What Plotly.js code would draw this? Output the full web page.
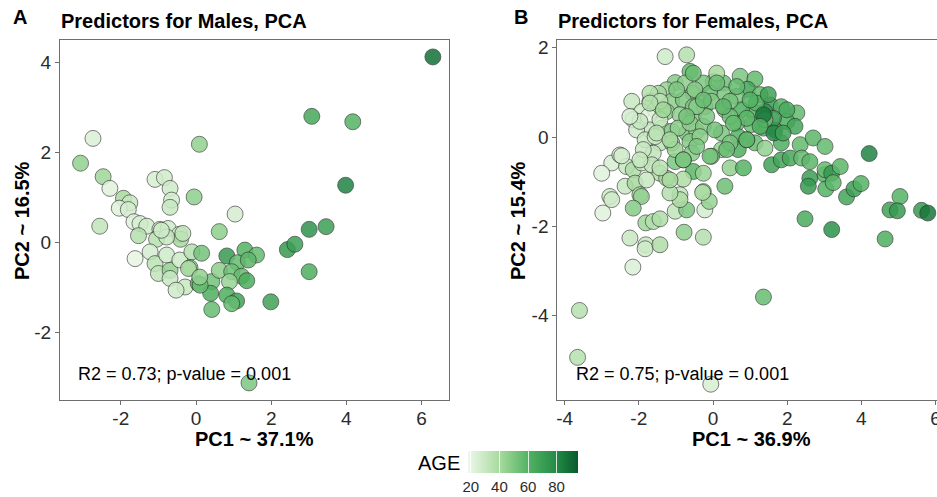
<!DOCTYPE html>
<html>
<head>
<meta charset="utf-8">
<script src="https://cdn.plot.ly/plotly-3.0.1.min.js"></script>
<style>
html,body{margin:0;padding:0;overflow:hidden;background:#fff;width:937px;height:497px;}
#chart{width:945px;height:497px;}
</style>
</head>
<body>
<div id="chart"></div>
<script>
// ---- Males ----
const maleX = [-2.74,-3.07,0.09,-2.47,-2.29,-1.09,-0.84,-0.69,-0.05,-0.65,-0.69,-1.93,-1.76,-2.04,-1.80,-2.56,-1.65,-1.49,-1.31,-1.53,-0.96,-0.74,-0.44,-0.41,-1.05,-0.78,-1.62,-1.22,-1.09,-0.78,-1.00,-0.69,-0.69,-0.43,-0.11,0.15,-0.16,-0.29,-0.53,0.06,0.42,0.39,0.42,0.62,1.04,3.01,3.46,2.43,2.63,3.01,0.82,1.30,1.61,1.10,1.39,0.62,0.95,1.21,1.35,0.89,0.11,0.82,1.08,0.95,1.99,1.41,3.98,3.08,4.17,6.30,-0.35,-0.92,-0.20,0.10];
const maleY = [2.31,1.76,2.18,1.46,1.20,1.40,1.44,1.20,1.01,0.94,0.78,0.98,0.88,0.76,0.73,0.36,0.46,0.42,0.36,0.15,0.29,0.31,0.18,0.07,0.07,0.12,-0.36,-0.21,-0.47,-0.28,-0.69,-0.62,-0.80,-0.39,-0.21,-0.24,-0.56,-0.99,-1.06,-0.91,-0.87,-1.13,-1.49,0.24,0.63,0.29,0.35,-0.16,-0.04,-0.65,-0.30,-0.17,-0.28,-0.45,-0.39,-0.62,-0.65,-0.75,-0.85,-0.87,-0.95,-1.17,-1.30,-1.36,-1.32,-3.12,1.27,2.80,2.68,4.12,0.20,0.27,-0.58,-0.77];
const maleAge = [24,45,45,42,22,25,27,28,46,26,30,40,30,22,26,32,22,25,28,36,30,28,27,40,35,30,20,26,34,28,32,45,30,28,36,52,48,30,28,58,52,62,55,46,26,75,70,72,70,62,72,60,56,55,58,46,54,56,63,44,55,62,68,56,68,50,82,65,60,88,32,28,38,45];

// ---- Females ----
const femaleX = [-1.29,-0.71,-0.62,-1.02,-0.75,-1.25,-1.47,-0.53,-1.11,-0.80,-2.19,-1.70,-1.92,-1.56,-1.25,-0.89,-0.53,-2.15,-1.74,-1.70,-2.06,-1.38,-1.11,-0.71,-0.44,-1.83,-1.43,-1.11,-0.62,-1.61,-1.02,-0.53,-2.73,-2.51,-3.00,-2.33,-2.15,-1.92,-1.65,-1.43,-1.25,-2.37,-2.10,-1.79,-2.78,-1.97,-0.89,
-1.97,-2.24,-1.43,-1.56,-1.88,-0.94,-1.02,-0.57,-0.80,-1.70,-1.43,-0.53,-0.62,
0.73,1.13,0.93,0.28,0.01,0.10,-0.26,-0.53,-0.49,-0.08,0.32,0.64,1.27,1.54,1.84,1.40,1.09,0.77,0.32,-0.22,2.26,1.99,2.21,1.67,1.36,1.04,0.64,0.23,-0.26,0.68,1.13,1.40,1.84,2.35,2.70,3.02,0.23,0.68,-0.04,0.46,0.82,1.58,1.84,2.08,2.39,0.32,-0.26,2.61,2.57,3.02,1.63,0.46,-0.17,
-0.44,-0.35,0.05,0.46,0.91,-0.04,1.17,1.49,0.64,1.40,0.91,0.46,1.36,1.64,
4.21,2.61,3.02,3.20,3.43,3.04,3.24,3.60,3.80,3.99,2.48,3.20,4.64,5.04,4.77,4.97,5.62,5.79,
-1.97,-1.93,-2.15,-2.73,-2.97,-1.81,-1.61,-1.43,-2.24,-1.81,-1.83,-1.43,-2.16,-0.78,-0.26,-1.02,-0.71,-0.22,-0.10,-0.28,-0.89,-1.16,-0.80,-1.43,-2.46,
-3.60,-3.65,-0.06,1.36,
-1.70,-1.34,-0.98,-1.52,-1.16,-0.71,-0.26,0.10,0.28,0.55,1.00,1.27,1.89,1.99,-0.44,-0.08,0.37,0.91,-0.80,-1.16,-0.26];
const femaleY = [1.80,1.84,1.47,1.22,1.21,1.06,0.98,0.98,0.80,0.83,0.80,0.80,0.57,0.61,0.57,0.50,0.46,0.39,0.46,0.16,0.16,0.20,0.13,0.09,0.13,-0.06,-0.13,-0.13,-0.10,-0.36,-0.55,-0.77,-0.58,-0.40,-0.81,-0.66,-0.73,-0.58,-0.62,-0.81,-0.92,-1.10,-1.03,-0.96,-1.33,-1.29,-1.29,
0.35,0.46,0.39,0.01,-0.28,0.20,-0.28,-0.36,-0.51,0.98,0.80,0.68,0.31,
1.36,1.30,1.07,1.21,1.24,1.43,1.21,1.43,1.06,0.98,0.95,0.91,0.95,0.72,0.68,0.57,0.57,0.61,0.61,0.68,0.54,0.35,0.24,0.16,0.20,0.28,0.31,0.09,0.24,0.01,-0.13,-0.25,-0.13,-0.17,-0.02,-0.21,-0.28,-0.28,-0.43,-0.69,-0.69,-0.62,-0.51,-0.47,-0.47,-1.10,-1.22,-0.92,-1.10,-0.84,0.42,0.80,0.46,
0.68,0.01,0.16,0.46,0.42,0.80,0.76,0.95,1.13,0.39,-0.06,-0.13,0.50,0.09,
-0.37,-0.55,-0.73,-0.81,-0.66,-1.16,-1.02,-1.34,-1.16,-1.04,-1.83,-2.07,-2.28,-1.33,-1.63,-1.65,-1.64,-1.70,
-0.51,-1.33,-1.59,-1.40,-1.70,-1.92,-1.89,-1.83,-2.26,-2.41,-2.50,-2.41,-2.91,-2.13,-2.24,-1.66,-1.63,-1.63,-1.44,-1.24,-1.40,-1.25,-0.94,-0.69,-0.42,
-3.88,-4.93,-5.53,-3.58,
0.76,0.61,1.06,0.09,-0.06,0.46,0.83,1.21,0.68,0.31,0.83,0.24,0.09,0.61,-0.21,-0.43,-0.28,-0.06,-0.51,-0.96,-0.81];
const femaleAge = [28,36,55,48,46,44,40,50,46,50,30,38,28,38,45,46,48,25,20,30,28,44,46,50,46,30,32,44,48,32,50,58,25,28,22,30,38,30,32,36,40,30,40,30,28,40,32,
30,26,30,28,30,46,44,48,56,36,34,50,46,
50,56,66,54,50,40,50,55,48,54,50,50,56,70,60,75,60,62,50,48,56,62,66,75,60,54,55,50,48,60,55,45,62,56,58,56,45,62,50,45,60,68,66,65,56,54,42,70,72,60,72,52,50,
48,46,52,54,58,50,60,68,56,55,56,52,85,80,
82,58,56,72,58,60,58,66,70,60,64,76,62,60,68,72,72,86,
30,45,48,28,22,42,36,38,30,30,28,38,24,46,36,32,50,26,44,38,38,36,38,34,26,
35,35,25,55,
36,42,50,34,40,52,55,54,58,56,60,62,68,64,50,52,55,58,50,40,44];

// ---- text / ticks ----
const panelLetters = ['A','B'];
const panelTitles = ['Predictors for Males, PCA','Predictors for Females, PCA'];
const xTitles = ['PC1 ~ 37.1%','PC1 ~ 36.9%'];
const yTitles = ['PC2 ~ 16.5%','PC2 ~ 15.4%'];
const statTexts = ['R2 = 0.73; p-value = 0.001','R2 = 0.75; p-value = 0.001'];
const maleXTicks = [-2,0,2,4,6];
const maleXTickText = ['-2','0','2','4','6'];
const maleYTicks = [-2,0,2,4];
const maleYTickText = ['-2','0','2','4'];
const femaleXTicks = [-4,-2,0,2,4,6];
const femaleXTickText = ['-4','-2','0','2','4','6'];
const femaleYTicks = [-4,-2,0,2];
const femaleYTickText = ['-4','-2','0','2'];
const ageTicks = [20,40,60,80];
const ageTickText = ['20','40','60','80'];

const W = 945, H = 497;
const px = v => v / W;
const py = v => (H - v) / H;
const FONT = 'Liberation Sans, Arial, Helvetica, sans-serif';

const markerBase = {
  size: 16,
  opacity: 0.85,
  coloraxis: 'coloraxis',
  line: {color: '#2a2a2a', width: 0.7}
};

const traces = [
  {type:'scatter', mode:'markers', x: maleX, y: maleY, xaxis:'x', yaxis:'y',
   marker: Object.assign({}, markerBase, {color: maleAge}), hoverinfo:'skip', showlegend:false},
  {type:'scatter', mode:'markers', x: femaleX, y: femaleY, xaxis:'x2', yaxis:'y2',
   marker: Object.assign({}, markerBase, {color: femaleAge}), hoverinfo:'skip', showlegend:false}
];

const axisBase = {
  showline: true, mirror: true, linecolor: '#6e6e6e', linewidth: 1,
  ticks: 'outside', ticklen: 4, tickcolor: '#6e6e6e', tickwidth: 1,
  showgrid: false, zeroline: false,
  tickfont: {family: FONT, size: 19, color: '#2b2b2b'}
};

const layout = {
  width: W, height: H,
  margin: {l:0, r:0, t:0, b:0, autoexpand:false},
  paper_bgcolor: '#fff', plot_bgcolor: '#fff',
  font: {family: FONT, color: '#000'},
  xaxis: Object.assign({}, axisBase, {domain:[px(60), px(449)], range:[-3.617, 6.729], tickvals: maleXTicks, ticktext: maleXTickText, anchor:'y', ticklabelstandoff:-3}),
  yaxis: Object.assign({}, axisBase, {domain:[py(400), py(40)], range:[-3.5, 4.496], tickvals: maleYTicks, ticktext: maleYTickText, anchor:'x'}),
  xaxis2: Object.assign({}, axisBase, {domain:[px(557.3), px(940)], range:[-4.197, 6.119], tickvals: femaleXTicks, ticktext: femaleXTickText, anchor:'y2', ticklabelstandoff:-3}),
  yaxis2: Object.assign({}, axisBase, {domain:[py(400), py(40)], range:[-5.884, 2.172], tickvals: femaleYTicks, ticktext: femaleYTickText, anchor:'x2'}),
  coloraxis: {
    cmin: 18, cmax: 95,
    colorscale: [
      [0, '#eef8ea'],
      [0.29, '#a6da9e'],
      [0.55, '#52b262'],
      [0.81, '#228945'],
      [1, '#08592c']
    ],
    colorbar: {
      orientation: 'h',
      x: px(523), xanchor: 'center',
      y: py(451), yanchor: 'top',
      len: 110, lenmode: 'pixels',
      thickness: 22, thicknessmode: 'pixels',
      xpad: 0, ypad: 0,
      outlinewidth: 0,
      tickvals: ageTicks, ticktext: ageTickText,
      ticks: 'inside', ticklen: 22, tickcolor: 'rgba(255,255,255,0.8)', tickwidth: 1,
      tickfont: {family: FONT, size: 15, color: '#2b2b2b'}
    }
  },
  annotations: [
    {text: panelLetters[0], x: px(20), y: py(17), xref:'paper', yref:'paper', showarrow:false, xanchor:'center', yanchor:'middle', font:{family:FONT, size:20, color:'#000', weight:'bold'}},
    {text: panelLetters[1], x: px(521), y: py(17), xref:'paper', yref:'paper', showarrow:false, xanchor:'center', yanchor:'middle', font:{family:FONT, size:20, color:'#000', weight:'bold'}},
    {text: '<b>' + panelTitles[0] + '</b>', x: px(59), y: py(21), xref:'paper', yref:'paper', showarrow:false, xanchor:'left', yanchor:'middle', font:{family:FONT, size:20, color:'#000'}},
    {text: '<b>' + panelTitles[1] + '</b>', x: px(556), y: py(21), xref:'paper', yref:'paper', showarrow:false, xanchor:'left', yanchor:'middle', font:{family:FONT, size:20, color:'#000'}},
    {text: '<b>' + xTitles[0] + '</b>', x: px(254), y: py(439), xref:'paper', yref:'paper', showarrow:false, xanchor:'center', yanchor:'middle', font:{family:FONT, size:20, color:'#000'}},
    {text: '<b>' + xTitles[1] + '</b>', x: px(751), y: py(439), xref:'paper', yref:'paper', showarrow:false, xanchor:'center', yanchor:'middle', font:{family:FONT, size:20, color:'#000'}},
    {text: '<b>' + yTitles[0] + '</b>', x: px(22), y: py(221), xref:'paper', yref:'paper', showarrow:false, textangle:-90, xanchor:'center', yanchor:'middle', font:{family:FONT, size:20, color:'#000'}},
    {text: '<b>' + yTitles[1] + '</b>', x: px(518), y: py(221), xref:'paper', yref:'paper', showarrow:false, textangle:-90, xanchor:'center', yanchor:'middle', font:{family:FONT, size:20, color:'#000'}},
    {text: statTexts[0], x: px(76), y: py(374), xref:'paper', yref:'paper', showarrow:false, xanchor:'left', yanchor:'middle', font:{family:FONT, size:18, color:'#000'}},
    {text: statTexts[1], x: px(574), y: py(374), xref:'paper', yref:'paper', showarrow:false, xanchor:'left', yanchor:'middle', font:{family:FONT, size:18, color:'#000'}},
    {text: 'AGE', x: px(439), y: py(463), xref:'paper', yref:'paper', showarrow:false, xanchor:'center', yanchor:'middle', font:{family:FONT, size:20, color:'#000'}}
  ]
};

Plotly.newPlot('chart', traces, layout, {displayModeBar:false, staticPlot:true});
</script>
</body>
</html>
